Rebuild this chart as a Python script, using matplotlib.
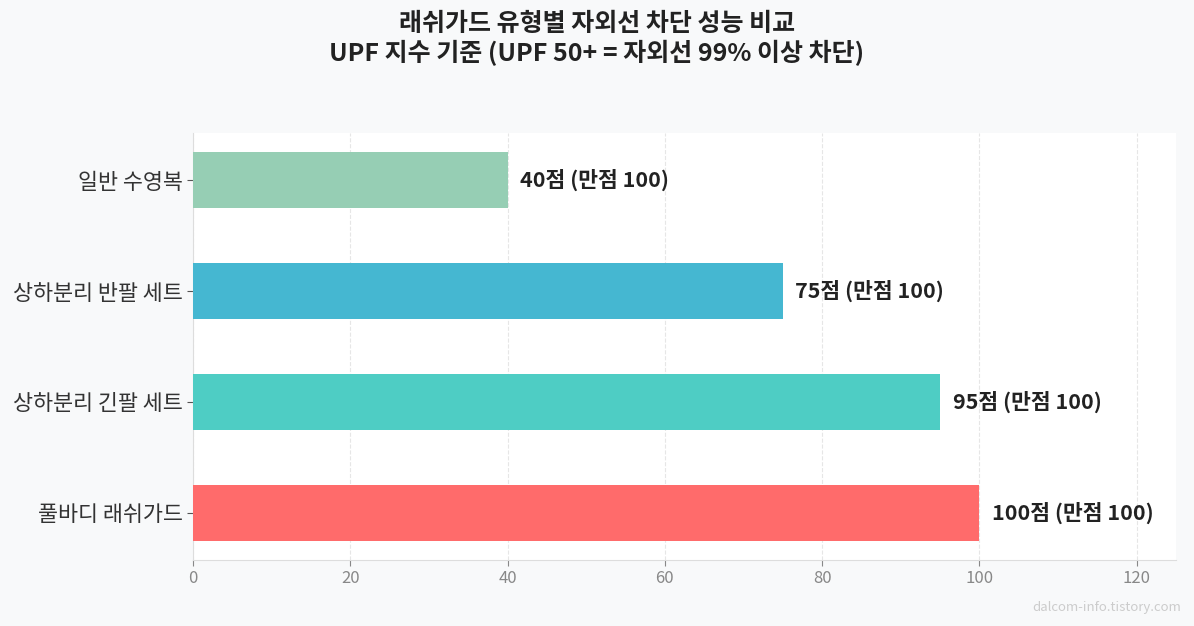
import matplotlib.pyplot as plt

plt.rcParams['font.family'] = ['Noto Sans CJK KR', 'DejaVu Sans']

categories = ['풀바디 래쉬가드', '상하분리 긴팔 세트', '상하분리 반팔 세트', '일반 수영복']
scores = [100, 95, 75, 40]
colors = ['#FF6B6B', '#4ECDC4', '#45B7D1', '#96CEB4']
title = '래쉬가드 유형별 자외선 차단 성능 비교\nUPF 지수 기준 (UPF 50+ = 자외선 99% 이상 차단)'
watermark = 'dalcom-info.tistory.com'

fig = plt.figure(figsize=(11.94, 6.26), dpi=100)
fig.patch.set_facecolor('#f8f9fa')
ax = fig.add_axes([193 / 1194, 66 / 626, 983 / 1194, 427 / 626])
ax.set_facecolor('white')

ax.barh(categories, scores, height=0.5, color=colors, zorder=3)

for i, v in enumerate(scores):
    ax.text(v + 1.6, i, f'{v}점 (만점 100)', va='center', ha='left',
            fontsize=15.5, fontweight='bold', color='#222222', zorder=4)

ax.set_xlim(0, 125)
ax.set_xticks([0, 20, 40, 60, 80, 100, 120])
ax.grid(axis='x', linestyle='--', color='#e6e6e6', linewidth=0.8, zorder=0)

for s in ['top', 'right']:
    ax.spines[s].set_visible(False)
for s in ['left', 'bottom']:
    ax.spines[s].set_color('#dddddd')

ax.tick_params(axis='x', labelsize=12, colors='#888888', length=4)
ax.tick_params(axis='y', labelsize=15.7, labelcolor='#333333', color='#555555', length=4)

fig.suptitle(title, fontsize=18, fontweight='bold', color='#222222', y=0.981)
fig.text(1181 / 1194, 19 / 626, watermark, ha='right', va='center',
         fontsize=9.5, color='#cccccc')

fig.savefig('out.png', dpi=100, facecolor=fig.get_facecolor())
